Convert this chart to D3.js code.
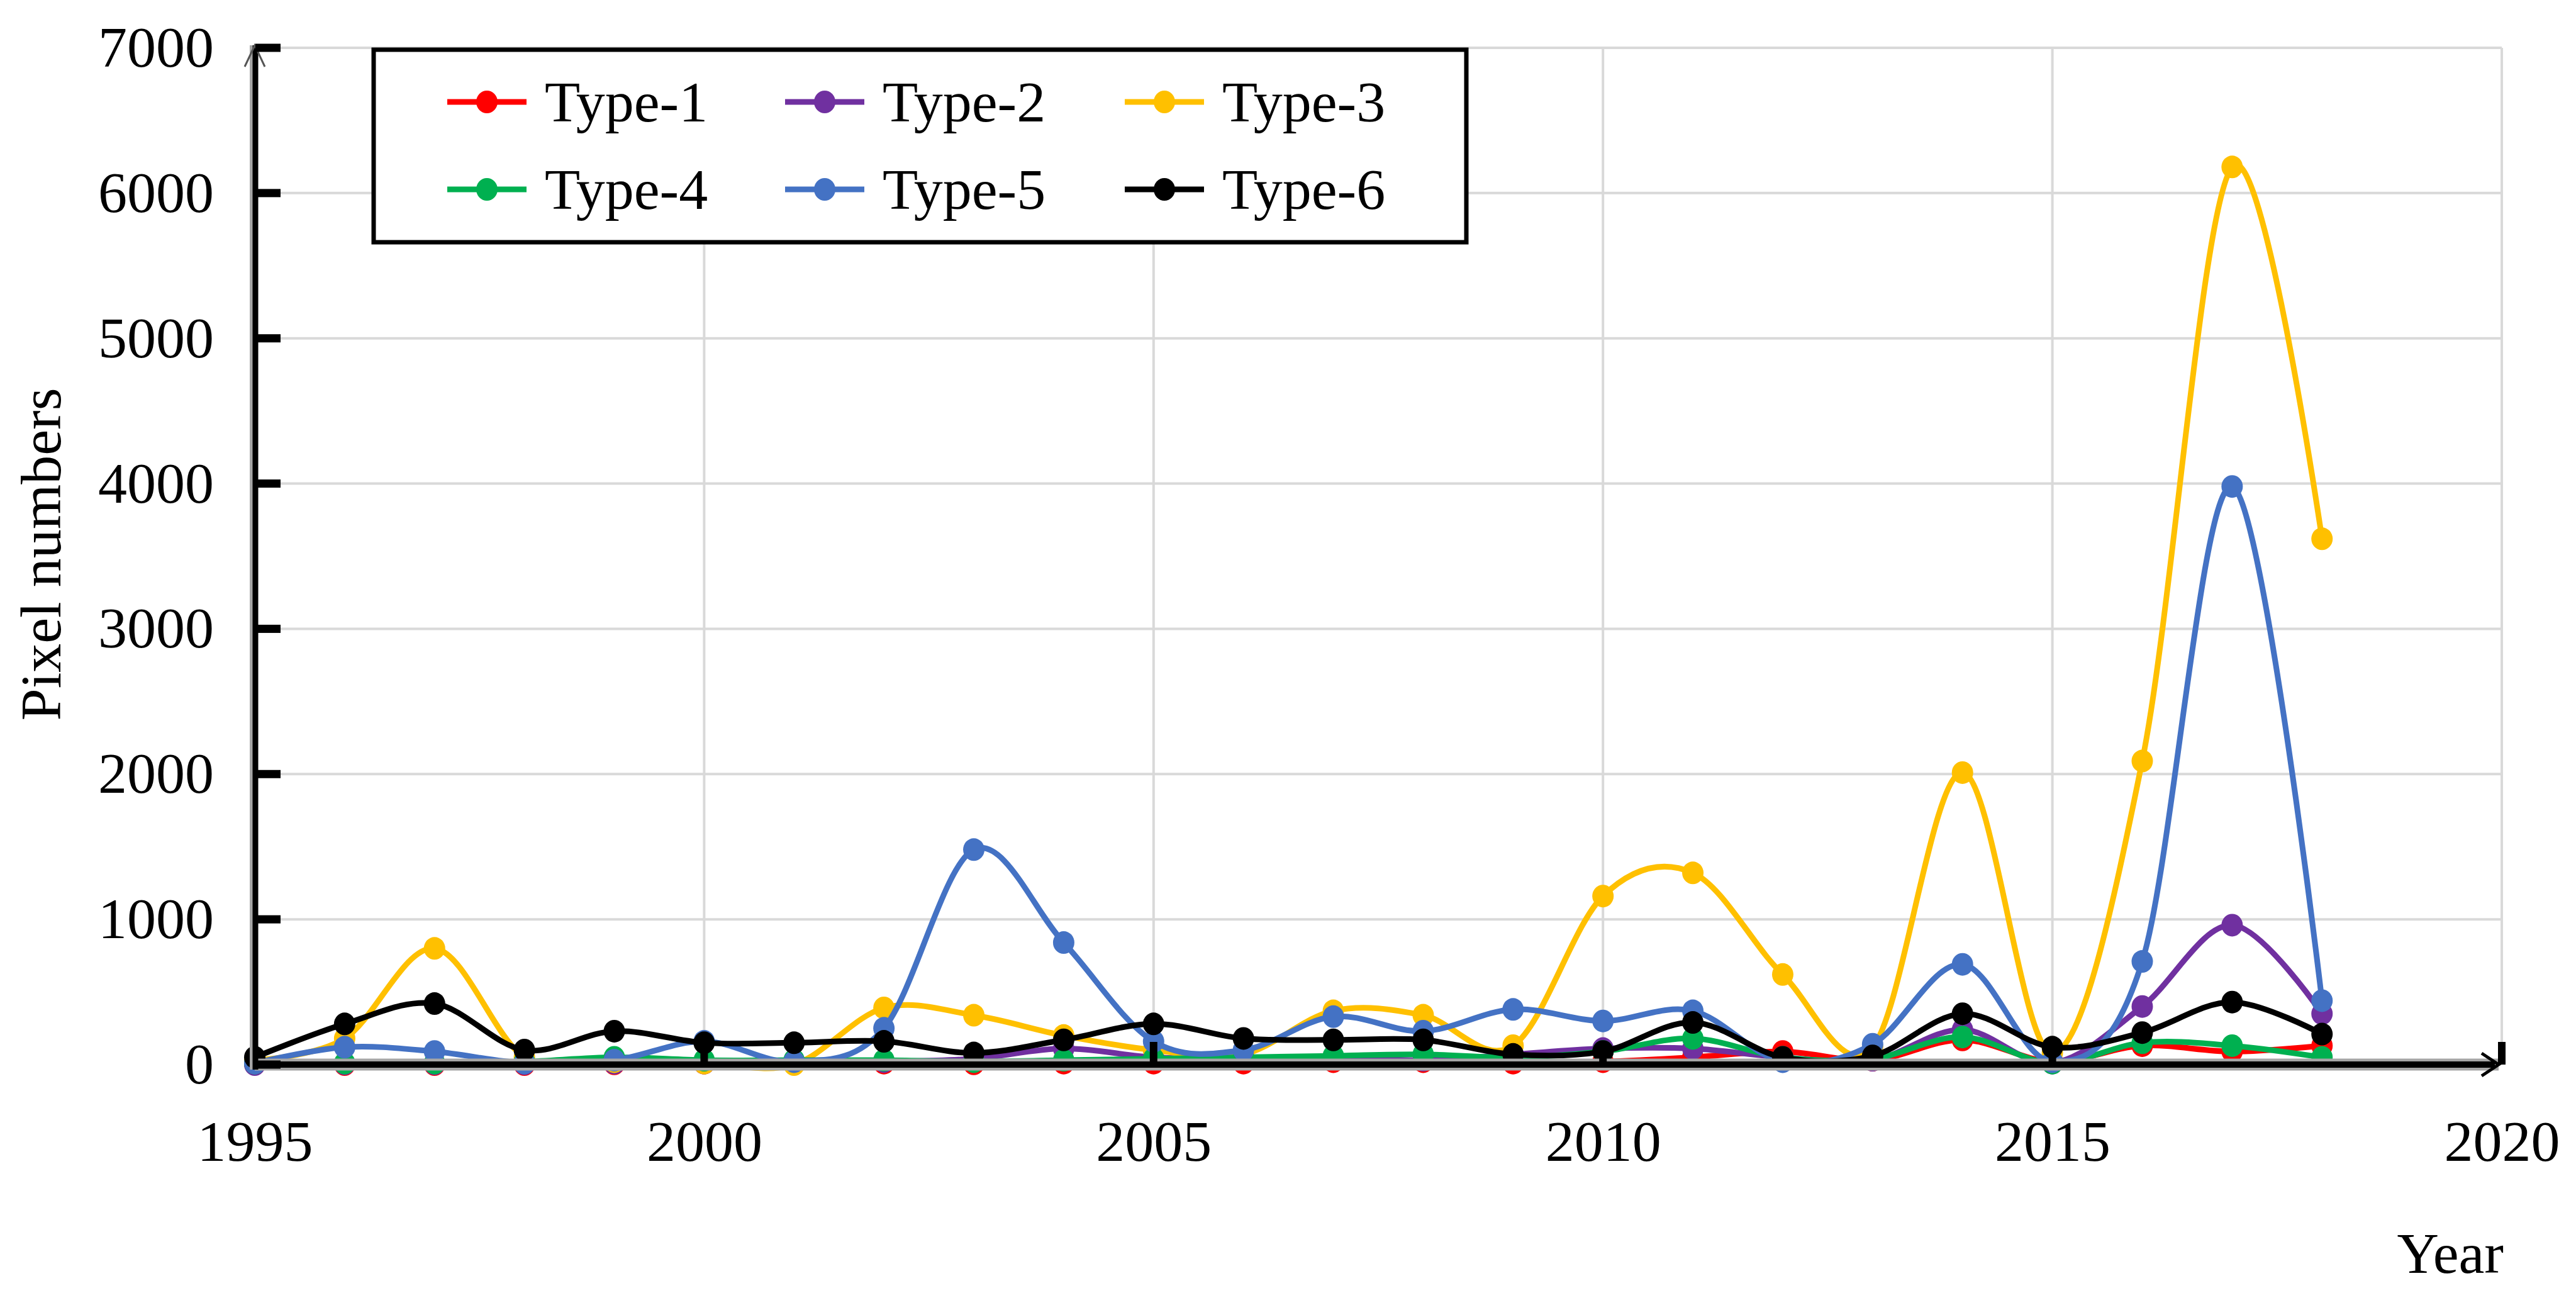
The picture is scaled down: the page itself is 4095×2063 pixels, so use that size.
<!DOCTYPE html>
<html>
<head>
<meta charset="utf-8">
<script src="https://cdn.jsdelivr.net/npm/d3@7"></script>
<style>
  html, body { margin: 0; padding: 0; background: #ffffff; }
  svg { display: block; }
  text { font-family: "Liberation Serif", "Times New Roman", serif; fill: #000; }
</style>
</head>
<body>
<svg id="chart" width="4095" height="2063"></svg>
<script>
// ---------------- data ----------------
const years = [1995,1996,1997,1998,1999,2000,2001,2002,2003,2004,2005,2006,2007,2008,2009,2010,2011,2012,2013,2014,2015,2016,2017,2018];
const type1 = [5,0,0,0,5,10,5,10,5,10,10,10,20,20,10,20,50,90,30,170,20,130,90,130];
const type2 = [0,5,5,5,10,10,10,20,40,110,50,40,50,30,70,110,110,50,30,240,10,400,960,350];
const type3 = [30,180,800,50,20,10,0,390,340,200,100,70,370,340,130,1160,1320,620,120,2010,80,2090,6180,3620];
const type4 = [10,10,10,20,50,30,30,30,20,30,40,50,60,70,50,90,180,50,40,190,10,150,130,50];
const type5 = [10,120,90,10,30,160,20,250,1480,840,160,100,330,230,380,300,370,20,140,690,20,710,3980,440];
const type6 = [50,280,420,100,230,150,150,160,80,170,280,180,170,170,70,90,290,50,60,350,120,220,430,210];
const seriesNames = ["Type-1","Type-2","Type-3","Type-4","Type-5","Type-6"];
const seriesColors = ["#ff0000","#7030a0","#ffc000","#00b050","#4472c4","#000000"];
const yTicks = [0,1000,2000,3000,4000,5000,6000,7000];
const xTicks = [1995,2000,2005,2010,2015,2020];
const xTitle = "Year";
const yTitle = "Pixel numbers";

const seriesValues = [type1,type2,type3,type4,type5,type6];

(function () {
// ---------------- layout ----------------
const svg = d3.select("#chart");
const pLeft = 405, pRight = 3977, pTop = 76, pBottom = 1692;
const x = d3.scaleLinear().domain([1995,2020]).range([pLeft,pRight]);
const y = d3.scaleLinear().domain([0,7000]).range([pBottom,pTop]);
const FS = 92;

// gridlines
const grid = svg.append("g");
grid.selectAll("line.h").data(yTicks.filter(d => d > 0)).enter().append("line")
  .attr("x1", pLeft).attr("x2", pRight)
  .attr("y1", d => y(d)).attr("y2", d => y(d))
  .attr("stroke", "#d9d9d9").attr("stroke-width", 4);
grid.selectAll("line.v").data(xTicks.filter(d => d > 1995)).enter().append("line")
  .attr("x1", d => x(d)).attr("x2", d => x(d))
  .attr("y1", pTop).attr("y2", pBottom)
  .attr("stroke", "#d9d9d9").attr("stroke-width", 4);

// axes labels via d3 axes
const yAxis = svg.append("g").attr("transform", `translate(${pLeft},0)`)
  .call(d3.axisLeft(y).tickValues(yTicks).tickSize(0).tickPadding(65).tickFormat(d3.format("d")));
yAxis.select(".domain").remove();
yAxis.selectAll("text").attr("font-size", FS).attr("font-family", "Liberation Serif, Times New Roman, serif").attr("fill", "#000");

const xAxis = svg.append("g").attr("transform", `translate(0,${pBottom})`)
  .call(d3.axisBottom(x).tickValues(xTicks).tickSize(0).tickPadding(88).tickFormat(d3.format("d")));
xAxis.select(".domain").remove();
xAxis.selectAll("text").attr("font-size", FS).attr("font-family", "Liberation Serif, Times New Roman, serif").attr("fill", "#000");

// series lines
const line = d3.line().x((d,i) => x(years[i])).y(d => y(d)).curve(d3.curveCardinal.tension(0));
const plot = svg.append("g");
seriesValues.forEach((vals, si) => {
  plot.append("path").datum(vals)
    .attr("d", line)
    .attr("fill", "none")
    .attr("stroke", seriesColors[si])
    .attr("stroke-width", 9)
    .attr("stroke-linejoin", "round");
  plot.selectAll(null).data(vals).enter().append("ellipse")
    .attr("cx", (d,i) => x(years[i]))
    .attr("cy", d => y(d))
    .attr("rx", 17).attr("ry", 18)
    .attr("fill", seriesColors[si]);
});

// axis lines (drawn on top)
const ax = svg.append("g");
ax.append("line").attr("x1", pLeft).attr("x2", 3972).attr("y1", pBottom).attr("y2", pBottom)
  .attr("stroke", "#a6a6a6").attr("stroke-width", 19);
ax.append("line").attr("x1", pLeft).attr("x2", 3966).attr("y1", pBottom).attr("y2", pBottom)
  .attr("stroke", "#000").attr("stroke-width", 10);
ax.append("path").attr("d", `M3945,1674 L3972,${pBottom} L3945,1710`)
  .attr("fill", "none").attr("stroke", "#000").attr("stroke-width", 5);
ax.append("line").attr("x1", pLeft - 2).attr("x2", pLeft - 2).attr("y1", pTop - 4).attr("y2", pBottom + 8)
  .attr("stroke", "#a6a6a6").attr("stroke-width", 12);
ax.append("line").attr("x1", pLeft + 1).attr("x2", pLeft + 1).attr("y1", pTop - 4).attr("y2", pBottom + 8)
  .attr("stroke", "#000").attr("stroke-width", 9);
ax.append("path").attr("d", `M389,106 L${pLeft},${pTop - 4} L421,106`)
  .attr("fill", "none").attr("stroke", "#555").attr("stroke-width", 3);
// inward y ticks
ax.selectAll("rect.yt").data(yTicks).enter().append("rect")
  .attr("x", pLeft + 1).attr("y", d => y(d) - 6.5)
  .attr("width", 40).attr("height", 13).attr("fill", "#000");
// inward x ticks
ax.selectAll("rect.xt").data(xTicks.filter(d => d > 1995)).enter().append("rect")
  .attr("x", d => x(d) - 6).attr("y", pBottom - 36)
  .attr("width", 12).attr("height", 36).attr("fill", "#000");

// axis titles
svg.append("text").attr("x", 3980).attr("y", 2023).attr("text-anchor", "end")
  .attr("font-size", FS).text(xTitle);
svg.append("text").attr("transform", "translate(96,881) rotate(-90)")
  .attr("text-anchor", "middle").attr("font-size", FS).text(yTitle);

// legend
const lg = svg.append("g");
lg.append("rect").attr("x", 594).attr("y", 79).attr("width", 1737).attr("height", 306)
  .attr("fill", "#fff").attr("stroke", "#000").attr("stroke-width", 7);
const colX = [774, 1311, 1851];
const rowY = [162, 301];
seriesNames.forEach((name, i) => {
  const cx = colX[i % 3], cy = rowY[Math.floor(i / 3)];
  lg.append("line").attr("x1", cx - 63).attr("x2", cx + 63).attr("y1", cy).attr("y2", cy)
    .attr("stroke", seriesColors[i]).attr("stroke-width", 9);
  lg.append("ellipse").attr("cx", cx).attr("cy", cy).attr("rx", 17).attr("ry", 18)
    .attr("fill", seriesColors[i]);
  lg.append("text").attr("x", cx + 92).attr("y", cy + 31).attr("font-size", FS).text(name);
});
})();
</script>
</body>
</html>
